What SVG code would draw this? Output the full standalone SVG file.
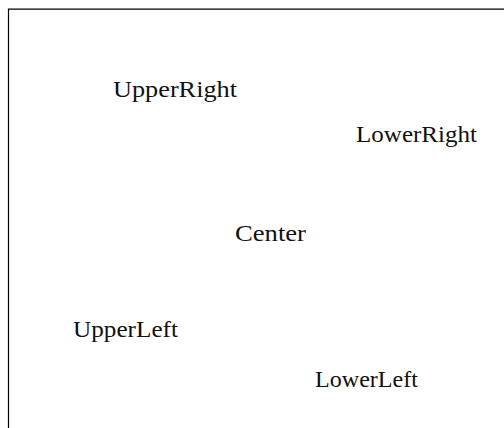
<svg xmlns="http://www.w3.org/2000/svg" width="504" height="428" viewBox="0 0 504 428">
<style>
.lbl{font-family:"Liberation Serif","Times New Roman",serif;font-size:23px;fill:#111;text-anchor:middle}
.frame{fill:none;stroke:#000;stroke-width:1.2}
</style>
<rect x="0" y="0" width="504" height="428" fill="#fff"/>
<path class="frame" d="M8.5,428 V9.2 H504"/>
<g id="connectors"/>
<g id="UpperRight"><text class="lbl" x="175" y="97" textLength="124" lengthAdjust="spacingAndGlyphs">UpperRight</text></g>
<g id="LowerRight"><text class="lbl" x="416.5" y="142" textLength="121" lengthAdjust="spacingAndGlyphs">LowerRight</text></g>
<g id="Center"><text class="lbl" x="270.5" y="241" textLength="71" lengthAdjust="spacingAndGlyphs">Center</text></g>
<g id="UpperLeft"><text class="lbl" x="125.5" y="337" textLength="105" lengthAdjust="spacingAndGlyphs">UpperLeft</text></g>
<g id="LowerLeft"><text class="lbl" x="366.5" y="387" textLength="103" lengthAdjust="spacingAndGlyphs">LowerLeft</text></g>
</svg>
